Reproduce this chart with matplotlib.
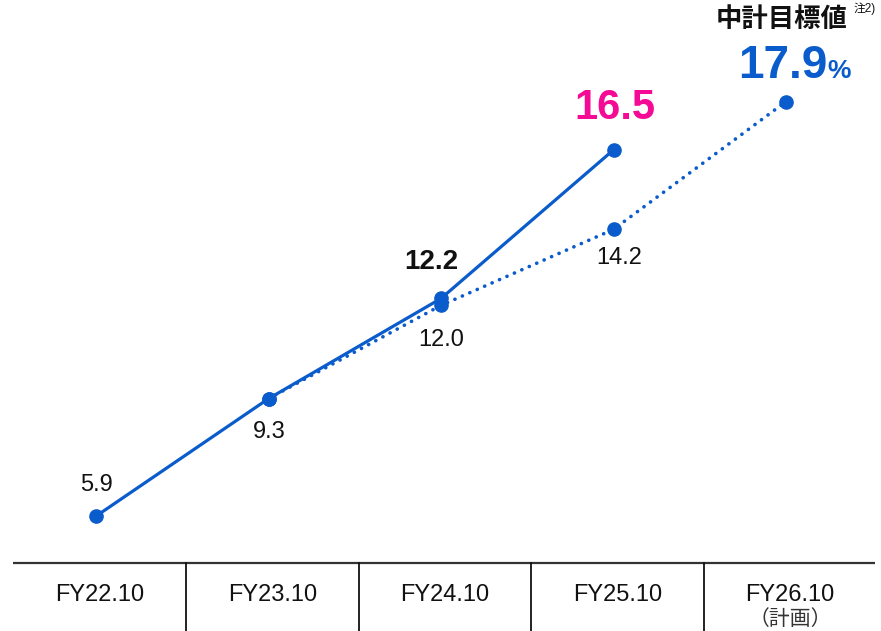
import matplotlib
matplotlib.use("Agg")
import matplotlib.pyplot as plt

plt.rcParams['font.family'] = ['Liberation Sans', 'Noto Sans CJK JP', 'DejaVu Sans']

# ---- data ----
categories = ["FY22.10", "FY23.10", "FY24.10", "FY25.10", "FY26.10"]
sub_labels = ["", "", "", "", "（計画）"]
actual_idx = [0, 1, 2, 3]
actual_vals = [5.9, 9.3, 12.2, 16.5]
plan_idx = [1, 2, 3, 4]
plan_vals = [9.3, 12.0, 14.2, 17.9]
target_title = "中計目標値"
target_note = "注2)"

BLUE = "#0A5BCB"
MAGENTA = "#F50A96"

W, H = 881, 631
fig = plt.figure(figsize=(W / 100, H / 100), dpi=100)
ax = fig.add_axes([0, 0, 1, 1])
ax.set_axis_off()

# x: index i at pixel 96 + 172.5*i ; y linear value scale
ax.set_xlim(-96 / 172.5, (W - 96) / 172.5)
ax.set_ylim((720 - H) / 34.55, 720 / 34.55)

# lines
ax.plot(plan_idx, plan_vals, color=BLUE, lw=2.6, linestyle=(0, (0.05, 2.2)),
        dash_capstyle='round', marker='o', markersize=9.5, zorder=2)
ax.plot(actual_idx, actual_vals, color=BLUE, lw=2.3, solid_capstyle='round',
        marker='o', markersize=9.5, zorder=3)

def lab(x, y, text, dx, dy, **kw):
    ax.annotate(text, (x, y), xytext=(dx, dy), textcoords='offset pixels',
                ha=kw.pop('ha', 'center'), va=kw.pop('va', 'center'), **kw)

# actual labels
lab(actual_idx[0], actual_vals[0], f"{actual_vals[0]:.1f}", 0, 31, fontsize=17, color='#111111')
lab(actual_idx[1], actual_vals[1], f"{actual_vals[1]:.1f}", 1, -33, fontsize=17, color='#111111')
lab(actual_idx[2], actual_vals[2], f"{actual_vals[2]:.1f}", -10, 36, fontsize=20, fontweight='bold', color='#111111')
lab(actual_idx[3], actual_vals[3], f"{actual_vals[3]:.1f}", 1, 42, fontsize=30, fontweight='bold', color=MAGENTA)

# plan labels
lab(plan_idx[1], plan_vals[1], f"{plan_vals[1]:.1f}", 0, -35, fontsize=17, color='#111111')
lab(plan_idx[2], plan_vals[2], f"{plan_vals[2]:.1f}", 6, -29, fontsize=17, color='#111111')
lab(plan_idx[3], plan_vals[3], f"{plan_vals[3]:.1f}", 41, 24, fontsize=33, fontweight='bold',
    color=BLUE, ha='right', va='baseline')
lab(plan_idx[3], plan_vals[3], "%", 41, 24, fontsize=19, fontweight='bold',
    color=BLUE, ha='left', va='baseline')
lab(plan_idx[3], plan_vals[3], target_title, -4, 82, fontsize=19, fontweight='bold', color='#111111')
lab(plan_idx[3], plan_vals[3], target_note, 68, 93, fontsize=8.5, color='#111111', ha='left')

# bottom table
line_y = 1 - 563 / H
ax.plot([13 / W, 875 / W], [line_y, line_y], transform=ax.transAxes, color='#333333',
        lw=1.6, solid_capstyle='butt', clip_on=False)
trans = ax.get_xaxis_transform()
for i in range(len(categories) - 1):
    xd = i + 0.5 + 4 / 172.5
    ax.plot([xd, xd], [-0.01, line_y], transform=trans, color='#111111', lw=1.3, clip_on=False)
for i, (c, s) in enumerate(zip(categories, sub_labels)):
    ax.text(i + 4 / 172.5, 1 - 595 / H, c, transform=trans, ha='center', va='center',
            fontsize=17, color='#111111')
    if s:
        ax.text(i + 4 / 172.5, 1 - 619 / H, s, transform=trans, ha='center', va='center',
                fontsize=15, color='#333333')

fig.savefig("out.png", dpi=100)
